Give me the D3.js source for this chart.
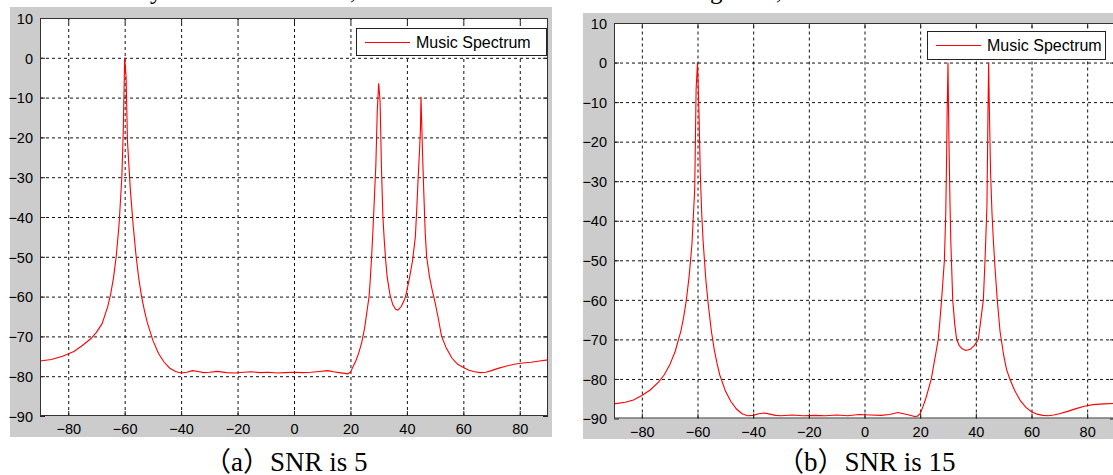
<!DOCTYPE html>
<html>
<head>
<meta charset="utf-8">
<script src="https://cdn.jsdelivr.net/npm/d3@7"></script>
<style>
  body { margin: 0; background: #fff; }
  svg { display: block; }
  .tick text { font-family: "Liberation Sans", Arial, sans-serif; font-size: 14.5px; fill: #000; }
  .grid line { stroke: #111; stroke-dasharray: 3,3; }
  .grid path { display: none; }
</style>
</head>
<body>
<div id="chart"></div>
<script>
// values (dB vs angle in degrees)
var anglesA = [-90, -86, -82, -78, -75, -72, -70, -68, -66, -65, -64, -63, -62, -61, -60.5, -60, -59.5, -59, -58, -57,
  -56, -55, -54, -53, -52, -50, -48, -46, -44, -42, -40, -38, -36, -34, -32, -30, -27, -24, -21, -18,
  -15, -12, -9, -6, -3, 0, 3, 6, 9, 12, 14, 16, 18, 19, 20, 21, 22, 23, 24, 25,
  26, 26.6, 27, 27.5, 28, 28.5, 29, 29.5, 30, 30.5, 31, 31.5, 32, 32.5, 33, 34, 35, 36, 36.8, 38,
  39, 39.5, 40, 41, 42, 43, 43.5, 44, 44.5, 44.8, 45, 45.5, 46, 46.5, 47, 48, 49, 50, 51, 52.3,
  54, 56, 58, 60, 62, 64, 66, 68, 70, 72, 75, 78, 81, 84, 87, 90];
var spectrumA = [-76.2, -75.8, -75.0, -73.8, -72.3, -70.6, -69.0, -66.8, -62.5, -59.5, -55.5, -50, -42, -30, -18.6, 0, -4.7, -21, -33, -42,
  -49.5, -55.5, -60, -63.5, -66.5, -71, -74.3, -76.5, -78, -78.8, -79.2, -79.0, -78.6, -78.8, -79.1, -79.0, -78.8, -79.1, -79.2, -79.0,
  -78.9, -79.1, -79.0, -79.2, -79.1, -79.0, -79.1, -79.0, -78.8, -78.6, -78.9, -79.1, -79.3, -79.4, -79.0, -77.5, -76, -74, -71.5, -68,
  -63, -60, -56, -50, -43, -35, -27, -13.5, -6.4, -11, -28, -40, -46, -51, -55, -59.5, -62, -63.2, -63.4, -62.5,
  -61, -60, -58.5, -55, -51, -45, -38, -30, -23, -18, -9.8, -23, -34, -44, -50, -55, -58.5, -61.5, -65, -70,
  -73, -75.5, -77, -77.8, -78.5, -78.9, -79.1, -79.0, -78.6, -78.1, -77.5, -77.0, -76.7, -76.5, -76.2, -75.9];

var anglesB = [-90, -86, -83, -80, -77, -74, -72, -70, -68, -66, -65, -64, -63, -62, -61, -60.5, -60, -59.5, -59, -58.5,
  -58, -57, -56, -55, -54, -53, -52, -50, -48, -46, -44, -42, -40, -38, -36, -34, -32, -30, -26, -22,
  -18, -14, -10, -6, -2, 2, 6, 9, 12, 14, 16, 18, 19, 20, 21, 22, 23, 24, 25, 26,
  26.5, 27, 27.7, 28.7, 29.2, 29.5, 29.7, 30, 30.3, 30.7, 31, 31.7, 32.4, 33.1, 34, 35, 36.4, 38, 39.5, 40.9,
  41.8, 42.7, 43.3, 44, 44.3, 44.6, 44.9, 45.3, 45.8, 46.3, 46.9, 47.7, 48.7, 50, 51, 52.2, 54, 56, 58, 60,
  62, 64, 66, 68, 70, 73, 76, 79, 82, 86, 90];
var spectrumB = [-86.3, -85.9, -85.3, -84.2, -82.8, -80.8, -79.0, -76.5, -73, -68, -64.5, -60, -54, -46, -32, -6.8, 0, -11.8, -28, -38,
  -45, -55, -62, -68, -72.5, -76, -79, -83, -85.7, -87.6, -88.8, -89.3, -89.2, -88.8, -88.6, -88.9, -89.2, -89.3, -89.1, -89.3,
  -89.2, -89.3, -89.1, -89.3, -89.0, -89.1, -89.2, -89.0, -88.5, -88.8, -89.1, -89.5, -89.4, -88.8, -87, -85, -82.5, -80, -76, -72,
  -70, -66, -60, -50, -38, -24, -12, 0, -18, -35, -45, -60, -66, -70, -71.5, -72.3, -72.8, -72.5, -71.5, -70,
  -65, -60, -50, -36, -16.3, 0, -13.5, -28, -38, -45, -52, -60, -68, -74, -77.5, -80, -83, -85.5, -87.2, -88.3,
  -88.9, -89.2, -89.3, -89.1, -88.8, -88.2, -87.5, -86.9, -86.5, -86.3, -86.2];

var xTicks = [-80, -60, -40, -20, 0, 20, 40, 60, 80];
var yTicks = [10, 0, -10, -20, -30, -40, -50, -60, -70, -80, -90];
var legendLabel = "Music Spectrum";
var captions = ["（a）SNR is 5", "（b）SNR is 15"];
var cutLetters = ["y", ",", "g", ","];

var W = 1113, H = 475;
var svg = d3.select('#chart').append('svg')
  .attr('width', W)
  .attr('height', H);

// descenders of the line of text above the figure (cut off by the crop)
var cutX = [150, 350, 710, 776];
svg.append('g').selectAll('text').data(cutLetters)
  .enter().append('text')
  .attr('x', function(d, i) { return cutX[i]; })
  .attr('y', -1)
  .attr('font-family', '"Liberation Serif", "Times New Roman", serif')
  .attr('font-size', 25)
  .text(function(d) { return d; });

var panels = [
  { bg: [10, 7, 542, 430], x0: 40, x1: 548, y0: 18, y1: 416,
    leg: [356, 28, 190, 27], capX: 204, ang: anglesA, val: spectrumA, cap: captions[0] },
  { bg: [583, 13, 540, 426], x0: 614, x1: 1115, y0: 23, y1: 418.5,
    leg: [927, 31, 178, 28], capX: 777, ang: anglesB, val: spectrumB, cap: captions[1] }
];

panels.forEach(function(p, k) {
  drawPanel(p, k);
});

function drawPanel(p, k) {
  var g = svg.append('g').attr('class', 'panel');
  var w = p.x1 - p.x0, h = p.y1 - p.y0;

  g.append('rect')
    .attr('x', p.bg[0]).attr('y', p.bg[1])
    .attr('width', p.bg[2]).attr('height', p.bg[3])
    .attr('fill', '#cccccc');

  var x = d3.scaleLinear().domain([-90, 90]).range([p.x0, p.x1]);
  var y = d3.scaleLinear().domain([-90, 10]).range([p.y1, p.y0]);

  g.append('rect')
    .attr('x', p.x0).attr('y', p.y0)
    .attr('width', w).attr('height', h)
    .attr('fill', '#fff');

  // grid
  g.append('g').attr('class', 'grid')
    .attr('transform', 'translate(0,' + p.y1 + ')')
    .call(d3.axisBottom(x).tickValues(xTicks).tickSize(-h).tickFormat(''));
  g.append('g').attr('class', 'grid')
    .attr('transform', 'translate(' + p.x0 + ',0)')
    .call(d3.axisLeft(y).tickValues(yTicks.slice(1, -1)).tickSize(-w).tickFormat(''));

  // curve
  var clipId = 'clip' + k;
  g.append('clipPath').attr('id', clipId)
    .append('rect').attr('x', p.x0).attr('y', p.y0 - 1).attr('width', w).attr('height', h + 1);

  var pts = p.ang.map(function(a, i) { return [a, p.val[i]]; });
  var line = d3.line()
    .x(function(d) { return x(d[0]); })
    .y(function(d) { return y(d[1]); });
  g.append('path')
    .datum(pts)
    .attr('clip-path', 'url(#' + clipId + ')')
    .attr('d', line)
    .attr('fill', 'none')
    .attr('stroke', '#ff0000')
    .attr('stroke-width', 1.1);

  // axes with inward ticks
  var xb = g.append('g').attr('transform', 'translate(0,' + p.y1 + ')')
    .call(d3.axisBottom(x).tickValues(xTicks).tickSizeInner(-5).tickSizeOuter(0).tickPadding(8));
  var yl = g.append('g').attr('transform', 'translate(' + p.x0 + ',0)')
    .call(d3.axisLeft(y).tickValues(yTicks).tickSizeInner(-5).tickSizeOuter(0).tickPadding(7));
  var xt = g.append('g').attr('transform', 'translate(0,' + p.y0 + ')')
    .call(d3.axisTop(x).tickValues(xTicks).tickSizeInner(-5).tickSizeOuter(0).tickFormat(''));
  var yr = g.append('g').attr('transform', 'translate(' + p.x1 + ',0)')
    .call(d3.axisRight(y).tickValues(yTicks).tickSizeInner(-5).tickSizeOuter(0).tickFormat(''));
  [xb, yl, xt, yr].forEach(function(a) {
    a.select('.domain').remove();
    a.selectAll('line').attr('stroke', '#222');
  });
  yl.selectAll('text').attr('dy', '0.36em');

  g.append('rect')
    .attr('x', p.x0 + 0.5).attr('y', p.y0 + 0.5)
    .attr('width', w - 1).attr('height', h - 1)
    .attr('fill', 'none')
    .attr('stroke', '#333')
    .attr('stroke-width', 1);

  // legend
  var lg = g.append('g').attr('transform', 'translate(' + p.leg[0] + ',' + p.leg[1] + ')');
  var mid = Math.round(p.leg[3] / 2) + 0.5;
  lg.append('rect')
    .attr('x', 0.5).attr('y', 0.5)
    .attr('width', p.leg[2]).attr('height', p.leg[3])
    .attr('fill', '#fff')
    .attr('stroke', '#222');
  lg.append('line')
    .attr('x1', 9).attr('x2', 54)
    .attr('y1', mid).attr('y2', mid)
    .attr('stroke', '#ff0000');
  lg.append('text')
    .attr('x', 60).attr('y', mid)
    .attr('dy', '0.35em')
    .attr('font-family', '"Liberation Sans", Arial, sans-serif')
    .attr('font-size', 16)
    .text(legendLabel);

  // caption under the panel
  svg.append('text')
    .attr('x', p.capX).attr('y', 471)
    .attr('font-family', '"Liberation Serif", "Times New Roman", "Noto Sans CJK SC", serif')
    .attr('font-size', 27)
    .text(p.cap);
}
</script>
</body>
</html>
